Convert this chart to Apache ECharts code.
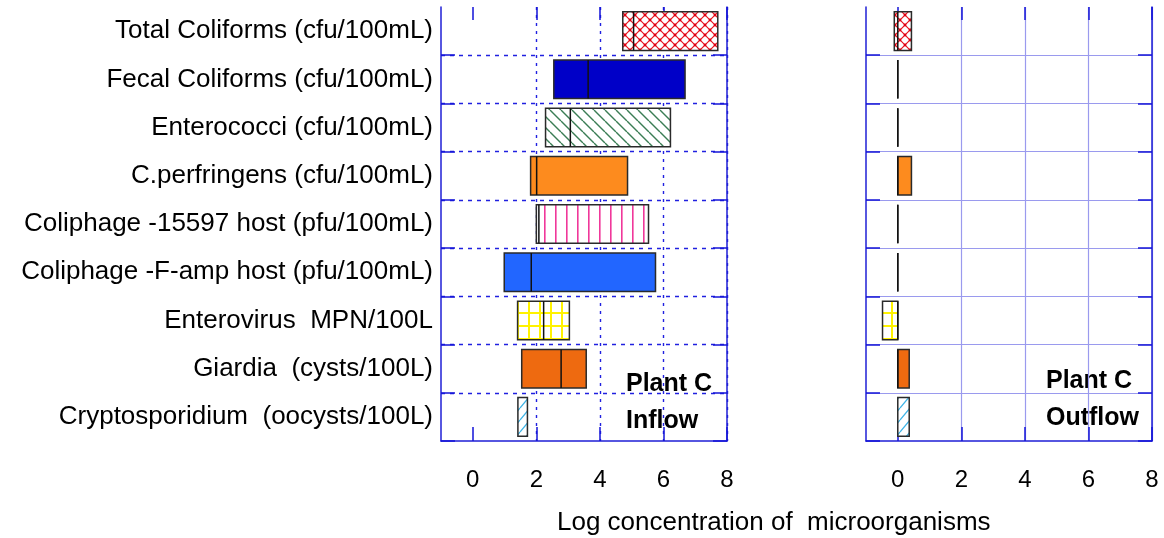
<!DOCTYPE html>
<html>
<head>
<meta charset="utf-8">
<script src="https://cdn.jsdelivr.net/npm/echarts@6/dist/echarts.min.js"></script>
<style>
html,body{margin:0;padding:0;background:#fff;}
#chart{width:1164px;height:538px;}
</style>
</head>
<body>
<div id="chart"></div>
<script>
// ---- data ----
const categories = [
  'Total Coliforms (cfu/100mL)',
  'Fecal Coliforms (cfu/100mL)',
  'Enterococci (cfu/100mL)',
  'C.perfringens (cfu/100mL)',
  'Coliphage -15597 host (pfu/100mL)',
  'Coliphage -F-amp host (pfu/100mL)',
  'Enterovirus  MPN/100L',
  'Giardia  (cysts/100L)',
  'Cryptosporidium  (oocysts/100L)'
];
const inflowMin    = [4.72, 2.55, 2.29, 1.82, 2.00, 0.99, 1.41, 1.54, 1.42];
const inflowMax    = [7.71, 6.68, 6.22, 4.87, 5.53, 5.75, 3.04, 3.57, 1.72];
const inflowMedian = [5.06, 3.63, 3.07, 2.01, 2.08, 1.84, 2.23, 2.78, null];
const outflowMin    = [-0.11, 0, 0, 0, 0, 0, -0.48, 0, 0];
const outflowMax    = [0.43, 0, 0, 0.43, 0, 0, 0, 0.36, 0.36];
const outflowMedian = [0, 0, 0, 0, 0, 0, 0, 0, null];
const xTicks = [0, 2, 4, 6, 8];

// ---- fill patterns ----
function tile(w, h, draw) {
  const c = document.createElement('canvas');
  c.width = w; c.height = h;
  const ctx = c.getContext('2d');
  ctx.fillStyle = '#fff';
  ctx.fillRect(0, 0, w, h);
  draw(ctx, w, h);
  return { image: c, repeat: 'repeat' };
}
const crossRed = tile(10, 10, (ctx, s) => {
  ctx.strokeStyle = '#e8141e'; ctx.lineWidth = 1.2;
  ctx.beginPath(); ctx.moveTo(0, 0); ctx.lineTo(s, s); ctx.moveTo(s, 0); ctx.lineTo(0, s); ctx.stroke();
  ctx.fillStyle = '#e00010';
  [[s/2, s/2], [0, 0], [s, 0], [0, s], [s, s]].forEach(p => { ctx.beginPath(); ctx.arc(p[0], p[1], 1.4, 0, Math.PI*2); ctx.fill(); });
});
const diagGreen = tile(11, 11, (ctx, s) => {
  ctx.strokeStyle = '#3b7d55'; ctx.lineWidth = 1.4;
  ctx.beginPath();
  for (let k = -1; k <= 1; k++) { ctx.moveTo(k*s, 0); ctx.lineTo(k*s + s, s); }
  ctx.stroke();
});
const vertPink = tile(11, 4, (ctx, w, h) => {
  ctx.fillStyle = '#f0389a';
  ctx.fillRect(5, 0, 1.6, h);
});
const gridYellow = tile(11, 13, (ctx, w, h) => {
  ctx.fillStyle = '#fff200';
  ctx.fillRect(0, 0, 2, h);
  ctx.fillRect(0, 0, w, 2);
});
const diagBlue = tile(10, 12, (ctx, w, h) => {
  ctx.strokeStyle = '#3fb4e6'; ctx.lineWidth = 1.3;
  ctx.beginPath();
  for (let k = -1; k <= 1; k++) { ctx.moveTo(k*w, h); ctx.lineTo(k*w + w, 0); }
  ctx.stroke();
});
const fills = [crossRed, '#0000c8', diagGreen, '#fd8b1e', vertPink, '#2266ff', gridYellow, '#ee6a10', diagBlue];

// ---- styles ----
const FONT = "'Liberation Sans', Arial, sans-serif";
const BORDER = '#1f1fd6';
const TICK = '#1515d8';

function makeRender(medians) {
  return function (params, api) {
    const i = api.value(3);
    const lo = api.coord([api.value(0), i]);
    const hi = api.coord([api.value(1), i]);
    const h = api.size([0, 1])[1] * 0.8;
    const children = [{
      type: 'rect',
      shape: { x: lo[0], y: lo[1] - h / 2, width: hi[0] - lo[0], height: h },
      style: { fill: fills[params.dataIndex], stroke: '#2a2a2a', lineWidth: 1.5 }
    }];
    const med = medians[params.dataIndex];
    if (med !== null && med !== undefined) {
      const m = api.coord([med, i]);
      children.push({
        type: 'line',
        shape: { x1: m[0], y1: lo[1] - h / 2, x2: m[0], y2: lo[1] + h / 2 },
        style: { stroke: '#111', lineWidth: 1.5 }
      });
    }
    return { type: 'group', children };
  };
}

function xAxes(g, dashed) {
  return [{
    gridIndex: g, type: 'value', min: -1, max: 8, position: 'bottom',
    axisLine: { show: true, onZero: false, lineStyle: { color: BORDER, width: 1.5 } },
    axisTick: { show: true, inside: true, length: 14, customValues: xTicks, lineStyle: { color: TICK, width: 1.5 } },
    axisLabel: { customValues: xTicks, fontSize: 24, margin: 27, color: '#000', fontFamily: FONT },
    splitLine: { show: true, showMinLine: false, lineStyle: dashed
      ? { color: '#2020e0', width: 1.4, type: [3, 5] }
      : { color: '#9a9aee', width: 1.2 } }
  }, {
    gridIndex: g, type: 'value', min: -1, max: 8, position: 'top',
    axisLine: { show: false, onZero: false },
    axisTick: { show: true, inside: true, length: 13, customValues: xTicks, lineStyle: { color: TICK, width: 1.5 } },
    axisLabel: { show: false },
    splitLine: { show: false }
  }];
}
const skipTop = (idx) => idx !== 0;
function yAxes(g, labels, dashed) {
  return [{
    gridIndex: g, type: 'category', data: categories, inverse: true, boundaryGap: true, position: 'left',
    axisLine: { show: true, onZero: false, lineStyle: { color: BORDER, width: 1.5 } },
    axisTick: { show: true, inside: true, length: 14, interval: skipTop, lineStyle: { color: TICK, width: 1.5 } },
    axisLabel: { show: labels, interval: 0, fontSize: 26, margin: 8, color: '#000', fontFamily: FONT },
    splitLine: { show: true, interval: 0, showMinLine: false, showMaxLine: false, lineStyle: dashed
      ? { color: '#2020e0', width: 1.4, type: [4, 5] }
      : { color: '#9a9aee', width: 1.2 } }
  }, {
    gridIndex: g, type: 'category', data: categories, inverse: true, boundaryGap: true, position: 'right',
    axisLine: { show: true, onZero: false, lineStyle: { color: BORDER, width: 1.5 } },
    axisTick: { show: true, inside: true, length: 14, interval: skipTop, lineStyle: { color: TICK, width: 1.5 } },
    axisLabel: { show: false },
    splitLine: { show: false }
  }];
}

const chart = echarts.init(document.getElementById('chart'), null, { renderer: 'canvas' });
chart.setOption({
  backgroundColor: '#fff',
  animation: false,
  grid: [
    { left: 441, top: 7, width: 286, height: 434 },
    { left: 866, top: 7, width: 286, height: 434 }
  ],
  xAxis: [...xAxes(0, true), ...xAxes(1, false)],
  yAxis: [...yAxes(0, true, true), ...yAxes(1, false, false)],
  series: [{
    type: 'custom', xAxisIndex: 0, yAxisIndex: 0,
    renderItem: makeRender(inflowMedian),
    encode: { x: [0, 1], y: 3 },
    data: inflowMin.map((v, i) => [v, inflowMax[i], inflowMedian[i] === null ? 0 : inflowMedian[i], i])
  }, {
    type: 'custom', xAxisIndex: 2, yAxisIndex: 2,
    renderItem: makeRender(outflowMedian),
    encode: { x: [0, 1], y: 3 },
    data: outflowMin.map((v, i) => [v, outflowMax[i], outflowMedian[i] === null ? 0 : outflowMedian[i], i])
  }],
  graphic: [
    { type: 'text', left: 626, top: 372, style: { text: 'Plant C', font: "bold 25px " + FONT, fill: '#000' } },
    { type: 'text', left: 626, top: 409, style: { text: 'Inflow', font: "bold 25px " + FONT, fill: '#000' } },
    { type: 'text', left: 1046, top: 369, style: { text: 'Plant C', font: "bold 25px " + FONT, fill: '#000' } },
    { type: 'text', left: 1046, top: 406, style: { text: 'Outflow', font: "bold 25px " + FONT, fill: '#000' } },
    { type: 'text', left: 557, top: 510, style: { text: 'Log concentration of  microorganisms', font: "26px " + FONT, fill: '#000' } }
  ]
});
</script>
</body>
</html>
